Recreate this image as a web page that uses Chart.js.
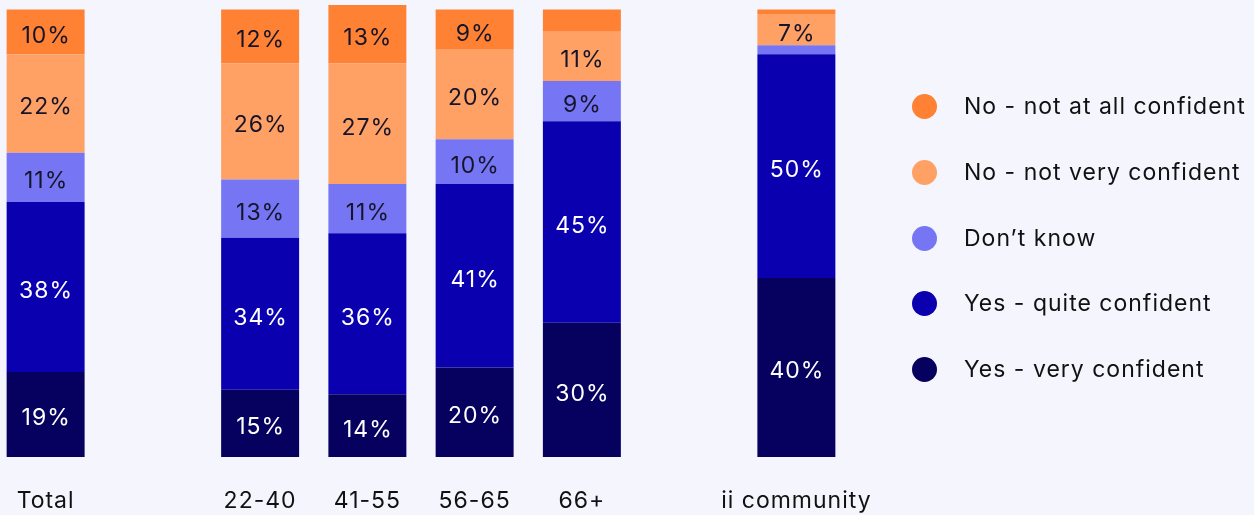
<!DOCTYPE html>
<html>
<head>
<meta charset="utf-8">
<script src="https://cdn.jsdelivr.net/npm/chart.js@4"></script>
<style>
  html, body { margin: 0; padding: 0; background: #F5F5FE; width: 1254px; height: 515px; overflow: hidden; font-family: Inter, "Noto Sans", sans-serif; }
  #c { position: absolute; left: -8px; top: 0; }
  #legend { position: absolute; left: 912px; top: 0; }
  .item { position: absolute; left: 0; display: flex; align-items: center; white-space: nowrap; transform: translateY(-50%); }
  .dot { width: 25px; height: 25px; border-radius: 50%; margin-right: 27px; }
  .lbl { font-size: 23px; letter-spacing: 1px; color: #111; }
</style>
</head>
<body>
<canvas id="c" width="950" height="515"></canvas>
<div id="legend"></div>
<script>
const categories = ["Total", "", "22-40", "41-55", "56-65", "66+", "", "ii community"];
const seriesNames = ["Yes - very confident", "Yes - quite confident", "Don\u2019t know", "No - not very confident", "No - not at all confident"];
const veryConfident  = [19, null, 15, 14, 20, 30, null, 40];
const quiteConfident = [38, null, 34, 36, 41, 45, null, 50];
const dontKnow       = [11, null, 13, 11, 10,  9, null,  2];
const notVery        = [22, null, 26, 27, 20, 11, null,  7];
const notAtAll       = [10, null, 12, 13,  9,  5, null,  1];
const seriesColors = ["#06005E", "#0A00B0", "#7676F5", "#FFA064", "#FF8133"];
const labelColors  = ["#FFFFFF", "#FFFFFF", "#15152A", "#15152A", "#15152A"];
const minLabelValue = 7;

const seriesValues = [veryConfident, quiteConfident, dontKnow, notVery, notAtAll];
const FONT = 'Inter, "Noto Sans", sans-serif';

const spacingPlugin = {
  id: 'spacing',
  beforeDraw(chart) { chart.ctx.letterSpacing = '1px'; }
};

const labelPlugin = {
  id: 'segLabels',
  afterDatasetsDraw(chart) {
    const ctx = chart.ctx;
    ctx.save();
    ctx.letterSpacing = '1px';
    ctx.font = '23px ' + FONT;
    ctx.textAlign = 'center';
    ctx.textBaseline = 'middle';
    chart.data.datasets.forEach((ds, di) => {
      const meta = chart.getDatasetMeta(di);
      meta.data.forEach((bar, i) => {
        const v = ds.data[i];
        if (v == null || v < minLabelValue) return;
        const y = (bar.y + bar.base) / 2;
        ctx.fillStyle = labelColors[di];
        ctx.fillText(v + '%', bar.x + 0.5, y + 4);
      });
    });
    ctx.restore();
  }
};

const chart = new Chart(document.getElementById('c'), {
  type: 'bar',
  data: {
    labels: categories,
    datasets: seriesValues.map((vals, i) => ({
      label: seriesNames[i],
      data: vals,
      backgroundColor: seriesColors[i],
      borderWidth: 0,
      barPercentage: 0.727,
      categoryPercentage: 1
    }))
  },
  options: {
    responsive: false,
    animation: false,
    devicePixelRatio: 1,
    layout: { padding: { top: 5, bottom: 0, left: 0, right: 92 } },
    plugins: { legend: { display: false }, tooltip: { enabled: false } },
    scales: {
      x: {
        stacked: true,
        grid: { display: false, drawTicks: false },
        border: { display: false },
        ticks: { color: '#111', font: { size: 23, family: FONT }, padding: 30, maxRotation: 0, minRotation: 0, autoSkip: false },
        afterFit(scale) { scale.height = 58; scale.paddingLeft = 0; scale.paddingRight = 0; }
      },
      y: {
        stacked: true,
        display: false,
        min: 0,
        max: 101
      }
    }
  },
  plugins: [spacingPlugin, labelPlugin]
});

// Legend (reverse order, top = last series)
const legend = document.getElementById('legend');
const rowY = [106, 172, 238, 303, 369];
for (let k = 0; k < seriesNames.length; k++) {
  const i = seriesNames.length - 1 - k;
  const item = document.createElement('div');
  item.className = 'item';
  item.style.top = rowY[k] + 'px';
  item.innerHTML = '<span class="dot" style="background:' + seriesColors[i] + '"></span><span class="lbl">' + seriesNames[i] + '</span>';
  legend.appendChild(item);
}
</script>
</body>
</html>
